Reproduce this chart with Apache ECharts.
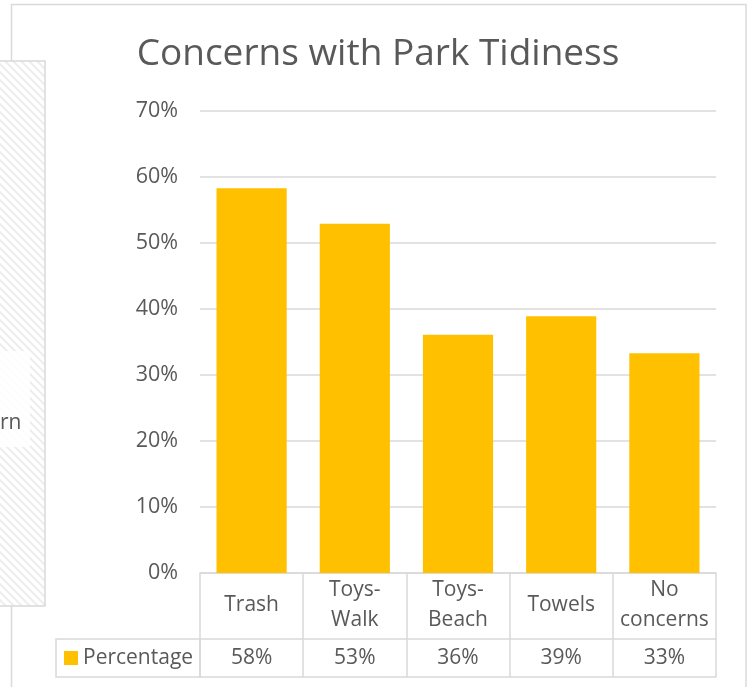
<!DOCTYPE html>
<html>
<head>
<meta charset="utf-8">
<script src="https://cdn.jsdelivr.net/npm/echarts@6/dist/echarts.min.js"></script>
<style>
html,body{margin:0;padding:0;background:#fff;}
#chart{width:748px;height:687px;}
</style>
</head>
<body>
<div id="chart"></div>
<script>
const titleText = "Concerns with Park Tidiness";
const seriesName = "Percentage";
const categories = ["Trash", "Toys-Walk", "Toys-Beach", "Towels", "No concerns"];
const values = [0.583, 0.529, 0.361, 0.389, 0.333];
const yTicks = [0, 0.1, 0.2, 0.3, 0.4, 0.5, 0.6, 0.7];

const FONT = "'Open Sans', sans-serif";
const TXT = "#595959";
const LINE = "#d9d9d9";
const BAR = "#FFC000";

function catLabel(s) {
  return s.replace("Toys-", "Toys-\n").replace("No ", "No\n");
}
function pct(v) { return Math.round(v * 100) + "%"; }

// hatch pattern
const pc = document.createElement("canvas");
pc.width = 8; pc.height = 8;
const pctx = pc.getContext("2d");
pctx.fillStyle = "#ffffff";
pctx.fillRect(0, 0, 8, 8);
pctx.strokeStyle = "#ededed";
pctx.lineWidth = 2;
pctx.beginPath();
pctx.moveTo(-2, -2); pctx.lineTo(10, 10);
pctx.moveTo(-2, 6); pctx.lineTo(2, 10);
pctx.moveTo(6, -2); pctx.lineTo(10, 2);
pctx.stroke();

const chart = echarts.init(document.getElementById("chart"), null, {renderer: "canvas"});
chart.setOption({
  animation: false,
  backgroundColor: "#fff",
  title: {
    text: titleText,
    left: 378,
    textAlign: "center",
    top: 36,
    padding: 0,
    textStyle: {fontFamily: FONT, fontSize: 37, fontWeight: "normal", color: TXT}
  },
  legend: {
    data: [seriesName],
    left: 64,
    top: 647,
    padding: 0,
    icon: "rect",
    itemWidth: 14,
    itemHeight: 14,
    itemGap: 6,
    textStyle: {fontFamily: FONT, fontSize: 21, color: TXT, lineHeight: 22}
  },
  grid: {left: 200, right: 32, top: 111, bottom: 114, containLabel: false},
  xAxis: [
    {
      type: "category",
      data: categories,
      position: "bottom",
      axisLine: {show: true, lineStyle: {color: LINE, width: 1.5}},
      axisTick: {show: true, interval: 0, length: 104, lineStyle: {color: LINE, width: 1.5}},
      axisLabel: {
        interval: 0, hideOverlap: false,
        formatter: catLabel, margin: 32, verticalAlign: "middle",
        fontFamily: FONT, fontSize: 21, color: TXT, lineHeight: 30
      }
    },
    {
      type: "category",
      data: values.map(pct),
      position: "bottom",
      offset: 66,
      axisLine: {show: true, lineStyle: {color: LINE, width: 1.5}},
      axisTick: {show: false},
      axisLabel: {interval: 0, margin: 19, verticalAlign: "middle", fontFamily: FONT, fontSize: 21, color: TXT}
    },
    {
      type: "category",
      data: categories,
      position: "bottom",
      offset: 104,
      axisLine: {show: true, lineStyle: {color: LINE, width: 1.5}},
      axisTick: {show: false},
      axisLabel: {show: false}
    }
  ],
  yAxis: {
    type: "value",
    min: yTicks[0],
    max: yTicks[yTicks.length - 1],
    interval: 0.1,
    axisLine: {show: false},
    axisTick: {show: false},
    splitLine: {lineStyle: {color: LINE, width: 1.5}},
    axisLabel: {formatter: pct, margin: 22, fontFamily: FONT, fontSize: 21.5, color: TXT}
  },
  series: [{
    name: seriesName,
    type: "bar",
    data: values,
    barCategoryGap: "32%",
    itemStyle: {color: BAR}
  }],
  graphic: [
    {type: "rect", z: -10, silent: true,
     shape: {x: 11.5, y: 4.5, width: 734.5, height: 720},
     style: {fill: "#fff", stroke: LINE, lineWidth: 1.5}},
    {type: "rect", z: 50, silent: true,
     shape: {x: 56, y: 639, width: 144, height: 38},
     style: {fill: "none", stroke: LINE, lineWidth: 1.5}},
    {type: "rect", z: 1, silent: true,
     shape: {x: -2, y: 61, width: 47, height: 545},
     style: {fill: {image: pc, repeat: "repeat"}, stroke: LINE, lineWidth: 1.5}},
    {type: "rect", z: 2, silent: true,
     shape: {x: 0, y: 351, width: 30, height: 96},
     style: {fill: "rgba(255,255,255,0.85)", stroke: null}},
    {type: "text", z: 3, silent: true, left: 0, top: 413,
     style: {text: "rn", font: "21px " + FONT, fill: TXT}}
  ]
});
</script>
</body>
</html>
